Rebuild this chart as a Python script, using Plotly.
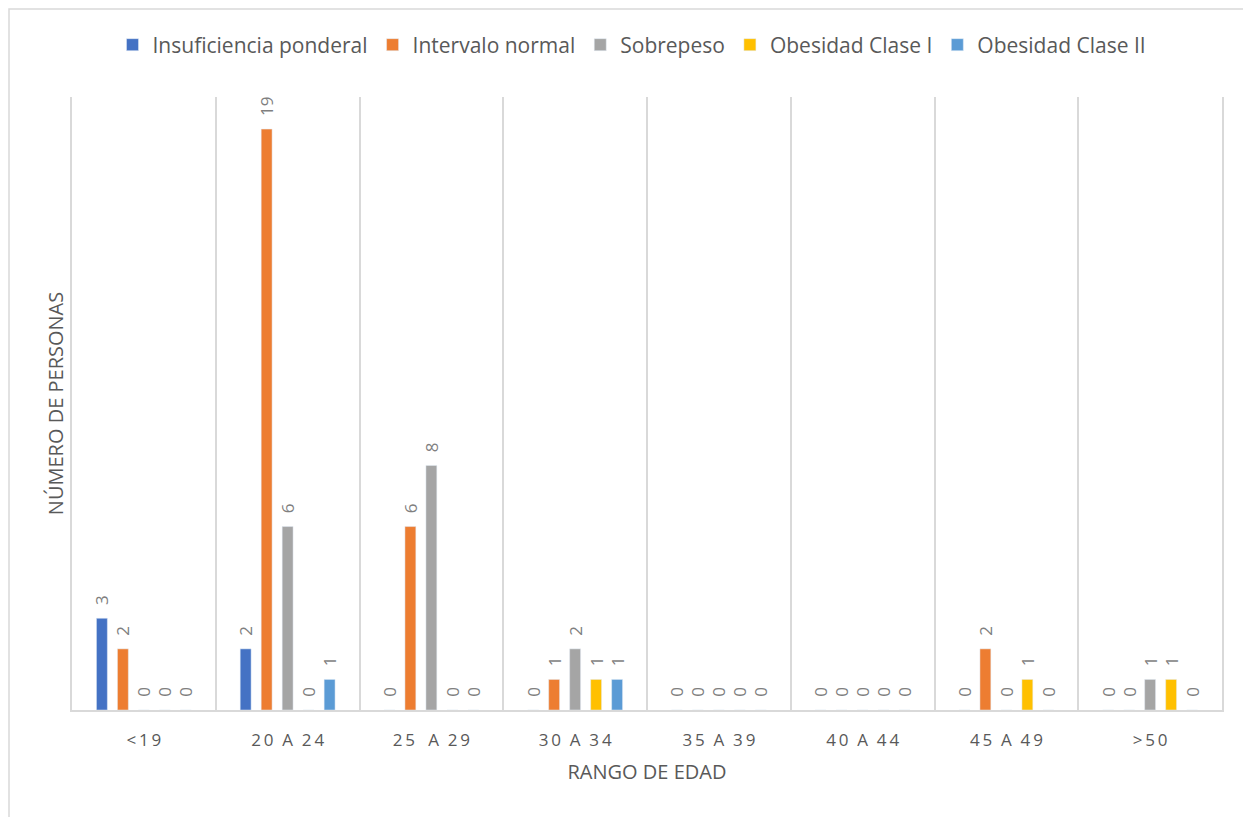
import plotly.graph_objects as go

T = "\u2009"   # thin space used as letter spacing
N = "\u00a0"
categories = ["<" + T + "1" + T + "9",
              "2" + T + "0" + N * 2 + "A" + N * 2 + "2" + T + "4",
              "2" + T + "5" + N * 3 + "A" + N * 2 + "2" + T + "9",
              "3" + T + "0" + N * 2 + "A" + N * 2 + "3" + T + "4",
              "3" + T + "5" + N * 2 + "A" + N * 2 + "3" + T + "9",
              "4" + T + "0" + N * 2 + "A" + N * 2 + "4" + T + "4",
              "4" + T + "5" + N * 2 + "A" + N * 2 + "4" + T + "9",
              ">" + T + "5" + T + "0"]
series_names = ["Insuficiencia ponderal", "Intervalo normal", "Sobrepeso", "Obesidad Clase I", "Obesidad Clase II"]
insuficiencia = [3, 2, 0, 0, 0, 0, 0, 0]
normal = [2, 19, 6, 1, 0, 0, 2, 0]
sobrepeso = [0, 6, 8, 2, 0, 0, 0, 1]
obesidad1 = [0, 0, 0, 1, 0, 0, 1, 1]
obesidad2 = [0, 1, 0, 1, 0, 0, 0, 0]
colors = ["#4472C4", "#ED7D31", "#A5A5A5", "#FFC000", "#5B9BD5"]

values = [insuficiencia, normal, sobrepeso, obesidad1, obesidad2]

FONT = "Open Sans, Liberation Sans, sans-serif"

fig = go.Figure()
for name, vals, col in zip(series_names, values, colors):
    fig.add_trace(go.Bar(
        name=name, x=categories, y=vals, marker_color=col,
        # leading spaces give the rotated label a small gap above the bar
        text=["\u2002\u200a" + str(v) for v in vals], textposition="outside", textangle=-90,
        constraintext="none",
        textfont=dict(family=FONT, size=17, color="#7F7F7F"),
        cliponaxis=False,
    ))

fig.update_layout(
    width=1251, height=817,
    paper_bgcolor="white", plot_bgcolor="white",
    barmode="group", bargap=0.27, bargroupgap=0.48,
    margin=dict(l=64, r=37, t=89, b=115),
    font=dict(family=FONT, color="#595959"),
    showlegend=True,
    legend=dict(orientation="h", xref="container", x=0.4988, xanchor="center",
                yref="container", y=1 - 37 / 817, yanchor="middle",
                font=dict(size=21, color="#595959"), traceorder="normal"),
    xaxis=dict(
        type="category", tickson="boundaries", showgrid=True, gridcolor="#D9D9D9", gridwidth=1.5,
        showline=True, linecolor="#D9D9D9", linewidth=1.5, ticks="",
        tickfont=dict(size=17, color="#595959"), ticklabelstandoff=14,
        title=dict(text="RANGO DE EDAD", font=dict(size=20, color="#595959"), standoff=15),
        automargin=False,
    ),
    yaxis=dict(
        range=[0, 20.05], showgrid=False, showticklabels=False, ticks="", zeroline=False,
        showline=True, mirror=True, linecolor="#D9D9D9", linewidth=1.5,
        title=dict(text="NÚMERO DE PERSONAS", font=dict(size=20, color="#595959"), standoff=1),
        automargin=False,
    ),
    shapes=[dict(type="rect", xref="paper", yref="paper",
                 x0=(1 - 64) / 1150, x1=(1240 - 64) / 1150, y0=-0.2, y1=(702 - 1) / 613,
                 line=dict(color="#D9D9D9", width=1.5), fillcolor="rgba(0,0,0,0)", layer="below")],
)

fig.write_html("out.html")
